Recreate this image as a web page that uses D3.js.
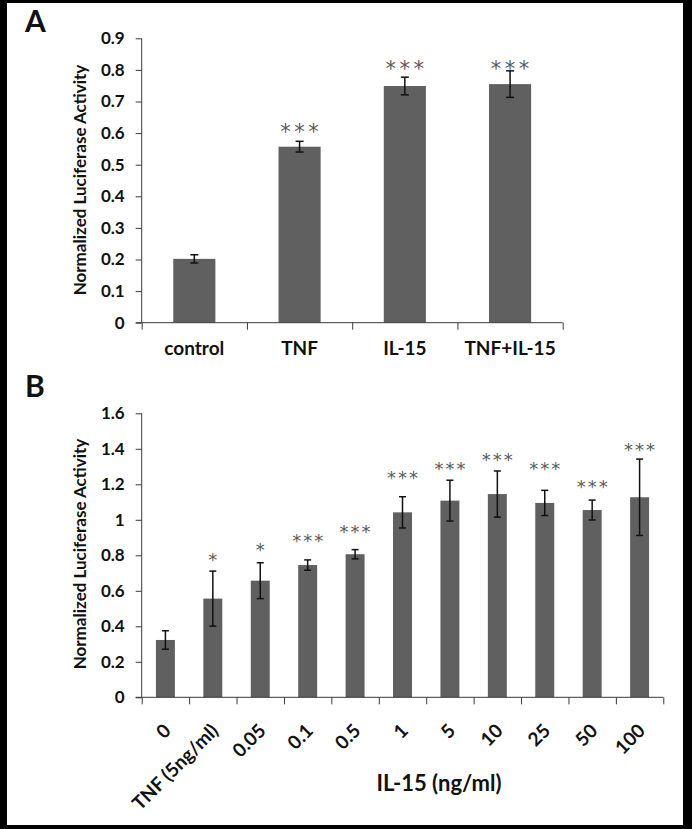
<!DOCTYPE html>
<html><head><meta charset="utf-8">
<script src="https://cdn.jsdelivr.net/npm/d3@7"></script>
<style>body{margin:0;background:#000}svg{display:block}</style>
</head><body>
<script>
// ---- Data: panel A ----
const catsA = ["control", "TNF", "IL-15", "TNF+IL-15"];
const valsA = [0.202, 0.557, 0.749, 0.755];
const errA  = [0.013, 0.017, 0.028, 0.042];
const sigA  = ["", "***", "***", "***"];
const sigYA = [null, 0.620, 0.821, 0.821];
const yTicksA = [0, 0.1, 0.2, 0.3, 0.4, 0.5, 0.6, 0.7, 0.8, 0.9];
const yTickLabelsA = ["0","0.1","0.2","0.3","0.4","0.5","0.6","0.7","0.8","0.9"];

// ---- Data: panel B ----
const catsB = ["0", "TNF (5ng/ml)", "0.05", "0.1", "0.5", "1", "5", "10", "25", "50", "100"];
const valsB = [0.323, 0.556, 0.657, 0.745, 0.806, 1.042, 1.108, 1.145, 1.095, 1.055, 1.127];
const errB  = [0.052, 0.155, 0.101, 0.029, 0.026, 0.088, 0.115, 0.130, 0.071, 0.056, 0.215];
const sigB  = ["", "*", "*", "***", "***", "***", "***", "***", "***", "***", "***"];
const sigYB = [null, 0.800, 0.854, 0.905, 0.958, 1.262, 1.314, 1.365, 1.314, 1.211, 1.421];
const yTicksB = [0, 0.2, 0.4, 0.6, 0.8, 1, 1.2, 1.4, 1.6];
const yTickLabelsB = ["0","0.2","0.4","0.6","0.8","1","1.2","1.4","1.6"];

const W = 692, H = 829;
const FONT = "Lato, 'Open Sans', sans-serif";
const svg = d3.select("body").append("svg").attr("width", W).attr("height", H);

// frame
svg.append("rect").attr("x",0).attr("y",0).attr("width",W).attr("height",H).attr("fill","#000");
svg.append("rect").attr("x",7).attr("y",3).attr("width",676).attr("height",822).attr("fill","#fff");

function panel(cfg) {
  const g = svg.append("g");
  const n = cfg.cats.length;
  const x = d3.scaleBand().domain(cfg.cats).range([cfg.x0, cfg.x1]).paddingInner(0.6).paddingOuter(0.3);
  const xi = d3.scaleLinear().domain([0, n]).range([cfg.x0, cfg.x1]);
  const y = d3.scaleLinear().domain(cfg.ydom).range([cfg.y0, cfg.y1]);

  g.selectAll("rect.bar").data(cfg.vals).join("rect")
    .attr("x", (d,i) => x(cfg.cats[i]))
    .attr("y", d => y(d))
    .attr("width", x.bandwidth())
    .attr("height", d => y(0) - y(d))
    .attr("fill", "#606060");

  const eb = g.selectAll("g.err").data(cfg.vals).join("g");
  eb.append("line")
    .attr("x1", (d,i) => x(cfg.cats[i]) + x.bandwidth()/2)
    .attr("x2", (d,i) => x(cfg.cats[i]) + x.bandwidth()/2)
    .attr("y1", (d,i) => y(d + cfg.err[i]))
    .attr("y2", (d,i) => y(d - cfg.err[i]))
    .attr("stroke", "#111").attr("stroke-width", 1.5);
  [1, -1].forEach(s => {
    eb.append("line")
      .attr("x1", (d,i) => x(cfg.cats[i]) + x.bandwidth()/2 - cfg.cap)
      .attr("x2", (d,i) => x(cfg.cats[i]) + x.bandwidth()/2 + cfg.cap)
      .attr("y1", (d,i) => y(d + s*cfg.err[i]))
      .attr("y2", (d,i) => y(d + s*cfg.err[i]))
      .attr("stroke", "#111").attr("stroke-width", 1.5);
  });

  const ya = g.append("g").attr("transform", `translate(${cfg.x0},0)`)
    .call(d3.axisLeft(y).tickValues(cfg.yticks).tickSize(6).tickPadding(11)
      .tickFormat((d,i) => cfg.ylabels[i]));
  ya.select(".domain").attr("stroke", "#3a3a3a").attr("d", `M-6,${cfg.y0}H0V${cfg.y1}`);
  ya.selectAll(".tick line").attr("stroke", "#3a3a3a");
  ya.selectAll(".tick text").attr("font-family", FONT).attr("font-weight", "bold")
    .attr("font-size", 17).attr("fill", "#111");

  const xa = g.append("g").attr("transform", `translate(0,${cfg.y0})`)
    .call(d3.axisBottom(xi).tickValues(d3.range(n + 1)).tickSize(7).tickFormat(""));
  xa.select(".domain").attr("stroke", "#3a3a3a").attr("d", `M${cfg.x0},0H${cfg.x1}`);
  xa.selectAll(".tick line").attr("stroke", "#3a3a3a");

  g.append("text")
    .attr("transform", `translate(${cfg.ytx},${cfg.ytc}) rotate(-90)`)
    .attr("text-anchor", "middle").attr("dy", "0.35em")
    .attr("font-family", FONT).attr("font-weight", "bold").attr("font-size", cfg.ytSize)
    .attr("fill", "#111").text("Normalized Luciferase Activity");

  g.selectAll("text.sig").data(cfg.sig).join("text")
    .attr("x", (d,i) => x(cfg.cats[i]) + x.bandwidth()/2 + cfg.sigLs/2)
    .attr("y", (d,i) => cfg.sigY[i] == null ? 0 : y(cfg.sigY[i]) + cfg.sigSize*0.59)
    .attr("text-anchor", "middle")
    .attr("font-family", "'DejaVu Sans', sans-serif").attr("font-size", cfg.sigSize)
    .attr("letter-spacing", cfg.sigLs)
    .attr("fill", "#5a5a5a").text(d => d);

  return {g, x, y};
}

// Panel A
const A = panel({cats: catsA, vals: valsA, err: errA, sig: sigA, sigY: sigYA,
  x0: 141.7, x1: 562.7, y0: 322.7, y1: 38.3, ydom: [0, 0.9],
  yticks: yTicksA, ylabels: yTickLabelsA, ytx: 80, ytc: 180, ytSize: 17, cap: 4,
  sigSize: 21, sigLs: 3.5});
A.g.selectAll("text.xl").data(catsA).join("text")
  .attr("x", d => A.x(d) + A.x.bandwidth()/2).attr("y", 348).attr("dy", "0.35em")
  .attr("text-anchor", "middle").attr("font-family", FONT).attr("font-weight", "bold")
  .attr("font-size", 19).attr("fill", "#111").text(d => d);
svg.append("text").attr("x", 25).attr("y", 32).attr("font-family", FONT)
  .attr("font-weight", "bold").attr("font-size", 30).attr("fill", "#111").text("A");

// Panel B
const B = panel({cats: catsB, vals: valsB, err: errB, sig: sigB, sigY: sigYB,
  x0: 141.7, x1: 663.3, y0: 697.3, y1: 413.3, ydom: [0, 1.6],
  yticks: yTicksB, ylabels: yTickLabelsB, ytx: 80, ytc: 554, ytSize: 17, cap: 3.5,
  sigSize: 18, sigLs: 2});
B.g.selectAll("text.xl").data(catsB).join("text")
  .attr("transform", d => `translate(${B.x(d) + B.x.bandwidth()/2 + 2},${697.3 + 30}) rotate(-45)`)
  .attr("dy", "0.35em")
  .attr("text-anchor", "end").attr("font-family", FONT).attr("font-weight", "bold")
  .attr("font-size", 19).attr("fill", "#111").text(d => d);
svg.append("text").attr("x", 439).attr("y", 783).attr("dy", "0.35em").attr("text-anchor", "middle")
  .attr("font-family", FONT).attr("font-weight", "bold").attr("font-size", 22)
  .attr("fill", "#111").text("IL-15 (ng/ml)");
svg.append("text").attr("x", 25).attr("y", 397).attr("font-family", FONT)
  .attr("font-weight", "bold").attr("font-size", 30).attr("fill", "#111").text("B");
</script>
</body></html>
